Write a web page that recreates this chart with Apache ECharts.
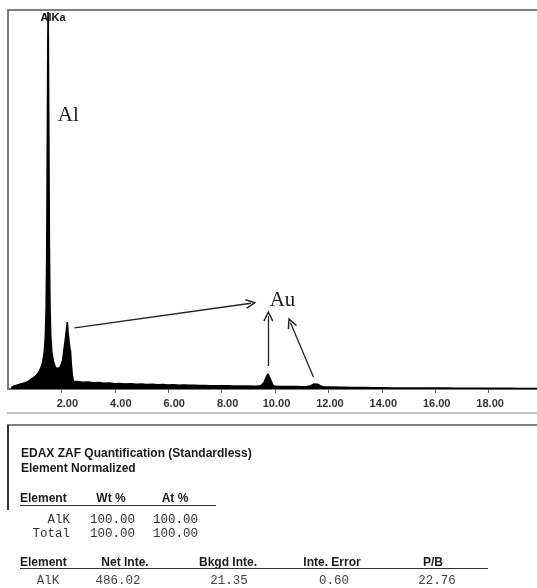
<!DOCTYPE html>
<html>
<head>
<meta charset="utf-8">
<script src="https://cdn.jsdelivr.net/npm/echarts@6/dist/echarts.min.js"></script>
<style>
  html, body { margin: 0; padding: 0; background: #fff; }
  #chart { width: 537px; height: 588px; }
</style>
</head>
<body>
<div id="chart"></div>
<script>
// EDS spectrum: energy (keV) and counts
const energyKeV = [
  0.12, 0.16, 0.25, 0.35, 0.45, 0.55, 0.65, 0.75, 0.85, 0.95,
  1.05, 1.15, 1.22, 1.28, 1.33, 1.37, 1.40, 1.43, 1.45, 1.47,
  1.49, 1.50, 1.51, 1.53, 1.55, 1.57, 1.60, 1.64, 1.70, 1.76,
  1.82, 1.88, 1.94, 2.00, 2.05, 2.10, 2.15, 2.19, 2.22, 2.25,
  2.28, 2.31, 2.34, 2.37, 2.41, 2.45, 2.50, 2.6, 2.8, 3.0,
  3.2, 3.4, 3.6, 3.8, 4.0, 4.2, 4.4, 4.6, 4.8, 5.0,
  5.2, 5.4, 5.6, 5.8, 6.0, 6.2, 6.4, 6.6, 6.8, 7.0,
  7.2, 7.4, 7.6, 7.8, 8.0, 8.2, 8.4, 8.6, 8.8, 9.0,
  9.2, 9.4, 9.5, 9.6, 9.68, 9.74, 9.80, 9.86, 9.92, 10.0,
  10.2, 10.4, 10.6, 10.8, 11.0, 11.2, 11.35, 11.45, 11.52, 11.60,
  11.70, 11.8, 12.0, 12.2, 12.4, 12.6, 12.8, 13.0, 13.2, 13.4,
  13.6, 13.8, 14.0, 14.4, 14.8, 15.2, 15.6, 16.0, 16.4, 16.8,
  17.2, 17.6, 18.0, 18.4, 18.8, 19.2, 19.6, 20.0
];
const counts = [
  0, 22, 35, 42, 50, 58, 66, 80, 98, 118,
  140, 175, 215, 260, 330, 420, 560, 850, 1400, 2400,
  3500, 3980, 3700, 2600, 1500, 900, 560, 390, 290, 240,
  215, 200, 225, 265, 310, 420, 530, 630, 707, 600,
  520, 440, 400, 260, 140, 80, 62, 78, 70, 74,
  66, 68, 60, 63, 56, 58, 52, 55, 50, 52,
  47, 49, 45, 47, 42, 44, 40, 41, 38, 39,
  36, 37, 34, 35, 33, 33, 31, 32, 30, 30,
  29, 30, 40, 75, 130, 158, 140, 80, 40, 28,
  27, 26, 26, 25, 24, 25, 35, 52, 58, 50,
  32, 23, 21, 20, 18, 18, 16, 16, 14, 14,
  13, 12, 12, 11, 11, 10, 10, 9, 9, 8,
  8, 8, 7, 7, 7, 6, 6, 6
];

// Energy axis tick labels
const tickValues = [2, 4, 6, 8, 10, 12, 14, 16, 18];
const tickLabels = ['2.00', '4.00', '6.00', '8.00', '10.00', '12.00', '14.00', '16.00', '18.00'];

// Peak annotations: [label, keV, counts]
const peakLabels = [
  ['AlKa', 1.69, 3914],
  ['Al', 2.26, 2890],
  ['Au', 10.28, 939]
];
// Arrows pointing from Au peaks to the Au label: [[fromKeV, fromCounts], [toKeV, toCounts]]
const auArrows = [
  [[2.49, 644], [9.10, 905]],
  [[9.75, 243], [9.75, 770]],
  [[11.44, 127], [10.58, 700]]
];

// Quantification tables
const quantTitle = 'EDAX ZAF Quantification (Standardless)';
const quantSubtitle = 'Element Normalized';
const compHeaders = ['Element', 'Wt %', 'At %'];
const compRows = [
  ['AlK', '100.00', '100.00'],
  ['Total', '100.00', '100.00']
];
const intHeaders = ['Element', 'Net Inte.', 'Bkgd Inte.', 'Inte. Error', 'P/B'];
const intRows = [
  ['AlK', '486.02', '21.35', '0.60', '22.76']
];

const sans = '"Liberation Sans", Arial, sans-serif';
const mono = '"Liberation Mono", "Courier New", monospace';
const serif = '"Liberation Serif", "Times New Roman", serif';

const chart = echarts.init(document.getElementById('chart'), null, { renderer: 'canvas' });

// Table graphics
const g = [];
function txt(x, y, text, font, align, color) {
  g.push({ type: 'text', x: x, y: y, silent: true,
    style: { text: text, font: font, fill: color || '#1a1a1a', textAlign: align || 'left', textVerticalAlign: 'middle' } });
}
function hline(x1, x2, y, w, c) {
  g.push({ type: 'line', silent: true, shape: { x1: x1, y1: y, x2: x2, y2: y }, style: { stroke: c, lineWidth: w } });
}
function vline(x, y1, y2, w, c) {
  g.push({ type: 'line', silent: true, shape: { x1: x, y1: y1, x2: x, y2: y2 }, style: { stroke: c, lineWidth: w } });
}

hline(7, 537, 413, 1.5, '#b0b0b0');
hline(7, 537, 425, 1.5, '#555');
vline(8, 425, 510, 2, '#333');

const hFont = 'bold 12px ' + sans;
const mFont = '12.5px ' + mono;
txt(21, 454, quantTitle, hFont);
txt(21, 469, quantSubtitle, hFont);

// composition table
const compHeadX = [[20, 'left'], [111, 'center'], [175, 'center']];
compHeaders.forEach((h, i) => txt(compHeadX[i][0], 499, h, hFont, compHeadX[i][1]));
hline(20, 216, 505.5, 1.2, '#333');
const compColX = [[70, 'right'], [90, 'left'], [153, 'left']];
compRows.forEach((row, r) => {
  row.forEach((cell, i) => txt(compColX[i][0], 520 + r * 13.5, cell, mFont, compColX[i][1], '#333'));
});

// intensity table
const intHeadX = [[20, 'left'], [125, 'center'], [228, 'center'], [332, 'center'], [433, 'center']];
intHeaders.forEach((h, i) => txt(intHeadX[i][0], 563, h, hFont, intHeadX[i][1]));
hline(20, 488, 568.5, 1.2, '#333');
const intColX = [48, 118, 229, 334, 437];
intRows.forEach((row, r) => {
  row.forEach((cell, i) => txt(intColX[i], 581 + r * 14, cell, mFont, 'center', '#444'));
});

const chevron = 'path://M5,0 L10,8.6 L8.8,9.4 L5,2.8 L1.2,9.4 L0,8.6 Z';
const tickFont = { color: '#333', fontFamily: sans, fontWeight: 'bold', fontSize: 11 };

const option = {
  animation: false,
  backgroundColor: '#fff',
  grid: {
    left: 8, top: 10, width: 534, height: 379,
    outerBoundsMode: 'none', containLabel: false,
    show: true, borderColor: '#555', borderWidth: 1.5, backgroundColor: 'transparent'
  },
  xAxis: {
    type: 'value', min: 0, max: 20, interval: 2,
    axisLine: { show: true, lineStyle: { color: '#777', width: 1.5 } },
    axisTick: { show: true, length: 4, inside: false, lineStyle: { color: '#666', width: 1 } },
    splitLine: { show: false },
    axisLabel: {
      show: true, margin: 9, showMinLabel: false, showMaxLabel: false,
      color: '#333', fontFamily: sans, fontWeight: 'bold', fontSize: 11,
      rich: {
        s: Object.assign({ padding: [0, 0, 0, 12] }, tickFont),
        w: Object.assign({ padding: [0, 0, 0, 3] }, tickFont)
      },
      formatter: v => {
        const k = tickValues.indexOf(v);
        if (k < 0) return '';
        return (v < 10 ? '{s|' : '{w|') + tickLabels[k] + '}';
      }
    }
  },
  yAxis: {
    type: 'value', min: 0, max: 4000, show: false
  },
  series: [{
    type: 'line',
    data: energyKeV.map((e, i) => [e, counts[i]]),
    showSymbol: false,
    symbol: 'none',
    lineStyle: { color: '#000', width: 1.6 },
    areaStyle: { color: '#000', opacity: 1 },
    silent: true,
    markLine: {
      silent: true,
      symbol: ['none', chevron],
      symbolSize: [10, 11],
      lineStyle: { color: '#222', width: 1.3, type: 'solid' },
      label: { show: false },
      data: auArrows.map(a => [{ coord: a[0] }, { coord: a[1] }])
    },
    markPoint: {
      silent: true,
      symbol: 'rect',
      symbolSize: 1,
      itemStyle: { color: 'rgba(0,0,0,0)' },
      data: peakLabels.map(p => ({
        name: p[0], coord: [p[1], p[2]],
        label: p[0] === 'AlKa'
          ? { show: true, position: 'inside', formatter: '{b}', color: '#111', fontFamily: sans, fontWeight: 'bold', fontSize: 11 }
          : { show: true, position: 'inside', formatter: '{b}', color: '#222', fontFamily: serif, fontSize: 21 }
      }))
    }
  }],
  graphic: g
};

chart.setOption(option);
</script>
</body>
</html>
